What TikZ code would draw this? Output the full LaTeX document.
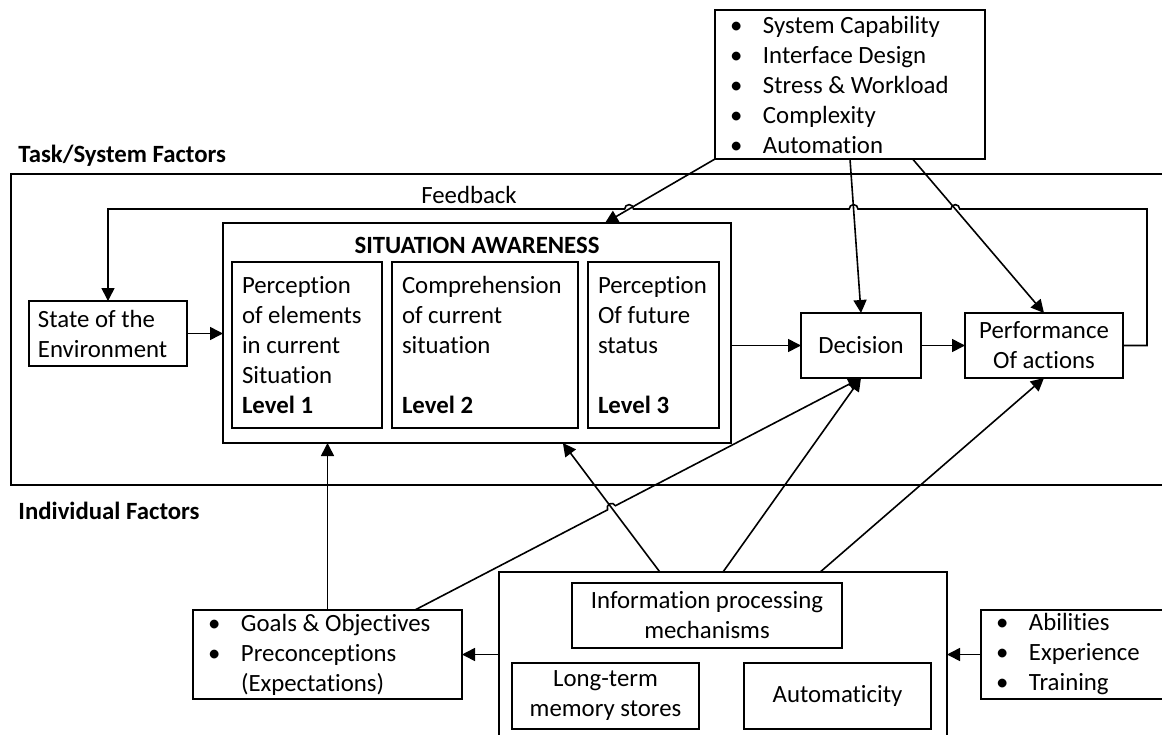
\documentclass[tikz,border=0pt]{standalone}
\usepackage{fontspec}
\setmainfont{Carlito}[Ligatures=NoCommon]
\usetikzlibrary{positioning}
\usetikzlibrary{calc}
\usetikzlibrary{arrows.meta}
\usetikzlibrary{intersections}

\newcommand{\bitem}[1]{\makebox[16.5pt][l]{\textbullet}#1}

\tikzset{
  txt/.style={font=\fontsize{12.4}{15}\selectfont, inner sep=0pt},
  box/.style={txt, draw, line width=0.9pt, outer sep=0pt, anchor=north west},
  cbox/.style={box, align=center},
  lbox/.style={box, align=left, inner xsep=5pt,
    execute at begin node={\spaceskip=0pt\xspaceskip=0pt\relax}},
  conn/.style={line width=0.8pt, -{Triangle[length=6.5pt,width=6.5pt]}},
}

\begin{document}
\begin{tikzpicture}[x=0.5pt, y=-0.5pt]

  \useasboundingbox (0,0) rectangle (1162,734);

  % task / system region
  \draw [line width=0.9pt] (1162,174) -- (11,174) -- (11,485) -- (1162,485);
  \node [txt, anchor=base west] (tasklbl) at (18,162) {\bfseries Task/System Factors};
  \node [txt, anchor=base west] (indlbl) at (18,519) {\bfseries Individual Factors};
  \node [txt, anchor=base] (fblbl) at (469,203) {Feedback};

  \node [lbox, inner xsep=7.5pt, text width=120pt, minimum height=74.5pt] (task) at (715,10)
    {\bitem{System Capability}\\\bitem{Interface Design}\\\bitem{Stress \& Workload}\\
     \bitem{Complexity}\\\bitem{Automation}};

  \node [lbox, inner xsep=4.5pt, text width=70pt, minimum height=32.5pt] (state) at (29,301)
    {State of the\\Environment};

  % situation awareness
  \node [box, minimum width=254pt, minimum height=110pt] (sa) at (223,223) {};
  \node [txt, anchor=base, font=\fontsize{12.4}{15}\selectfont\bfseries] (satitle) at (477,253)
    {SITUATION AWARENESS};
  \node [lbox, text width=65pt, minimum height=83pt] (lvl1) at (232,262)
    {Perception\\of elements\\in current\\Situation\\\textbf{Level 1}};
  \node [lbox, text width=83pt, minimum height=83pt] (lvl2) at (392,262)
    {Comprehension\\of current\\situation\\\mbox{}\\\textbf{Level 2}};
  \node [lbox, text width=55.5pt, minimum height=83pt] (lvl3) at (588,262)
    {Perception\\Of future\\status\\\mbox{}\\\textbf{Level 3}};

  \node [cbox, minimum width=60pt, minimum height=32.5pt] (dec) at (801,313) {Decision};
  \node [cbox, minimum width=79pt, minimum height=32.5pt] (perf) at (965,313)
    {Performance\\Of actions};

  % individual factors
  \node [lbox, inner xsep=7.5pt, text width=119.5pt, minimum height=44.5pt] (goals) at (193,610)
    {\bitem{Goals \& Objectives}\\\bitem{Preconceptions}\\\makebox[16.5pt]{}(Expectations)};
  \node [box, minimum width=224pt, minimum height=85pt] (ind) at (499,572) {};
  \node [cbox, minimum width=135pt, minimum height=32.5pt] (info) at (572,583)
    {Information processing\\mechanisms};
  \node [cbox, minimum width=93.5pt, minimum height=33pt] (ltm) at (512,663)
    {Long-term\\memory stores};
  \node [cbox, minimum width=93.5pt, minimum height=33pt] (auto) at (744,663) {Automaticity};
  \node [lbox, inner xsep=7.5pt, text width=85pt, minimum height=44.5pt] (abil) at (981,610)
    {\bitem{Abilities}\\\bitem{Experience}\\\bitem{Training}};

  \coordinate (saIn) at ($(sa.north west)!0.752!(sa.north east)$);
  \coordinate (taskR) at ($(task.south west)!0.732!(task.south east)$);
  \coordinate (saBot) at ($(sa.south west)!0.669!(sa.south east)$);
  \coordinate (indA) at ($(ind.north west)!0.359!(ind.north east)$);
  \coordinate (indC) at ($(ind.north west)!0.717!(ind.north east)$);
  \coordinate (gOut) at ($(goals.north west)!0.825!(goals.north east)$);
  \coordinate (fbR) at (1147,209);

  \draw [conn, name path=tA] (task.south west) to (saIn);
  \draw [conn, name path=tB] (task.south) to (dec.north);
  \draw [conn, name path=tC] (taskR) to (perf.north);

  \draw [conn] (state.east) to (state.east -| sa.west);
  \draw [conn] (sa.east |- dec.west) to (dec.west);
  \draw [conn] (dec.east) to (perf.west);

  % feedback loop, hopping over the task arrows
  \path [name path=fb] (fbR) -- (state.north |- fbR);
  \path [name intersections={of=fb and tA, by=hA}];
  \path [name intersections={of=fb and tB, by=hB}];
  \path [name intersections={of=fb and tC, by=hC}];
  \draw [conn] (perf.east) -| (fbR)
    -- ($(hC)+(2.2pt,0)$) arc [start angle=0, end angle=180, radius=2.2pt]
    -- ($(hB)+(2.2pt,0)$) arc [start angle=0, end angle=180, radius=2.2pt]
    -- ($(hA)+(2.2pt,0)$) arc [start angle=0, end angle=180, radius=2.2pt]
    -- (state.north |- fbR) -- (state.north);

  \draw [conn] (goals.north) to (goals.north |- sa.south);
  \draw [conn, name path=isa] (indA) to (saBot);
  \draw [conn] (ind.north) to (dec.south);
  \draw [conn] (indC) to (perf.south);

  \path [name path=gd] (gOut) -- (dec.south);
  \path [name intersections={of=gd and isa, by=hD}];
  \draw [conn] let \p1=($(dec.south)-(gOut)$), \n1={atan2(\y1,\x1)} in
    (gOut) -- ($(hD)!2.2pt!(gOut)$)
    arc [start angle=\n1+180, delta angle=-180, radius=2.2pt] -- (dec.south);

  \draw [conn] (ind.west |- goals.east) to (goals.east);
  \draw [conn] (abil.west) to (abil.west -| ind.east);

\end{tikzpicture}
\end{document}
